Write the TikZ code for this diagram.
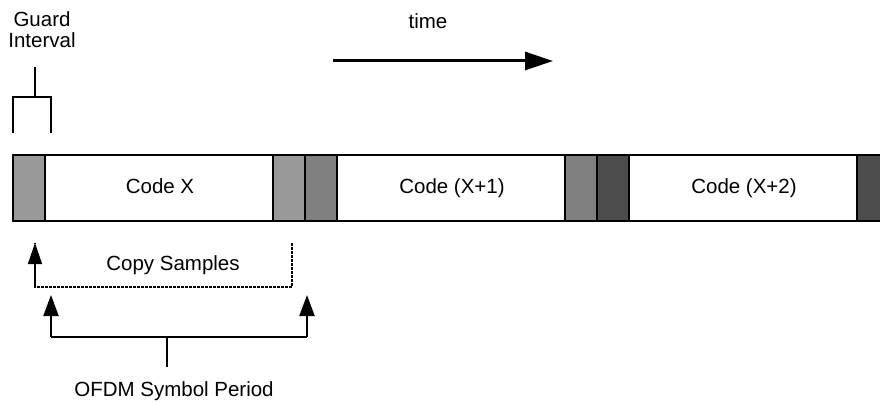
\documentclass[tikz,border=0pt]{standalone}
\usepackage{fontspec}
\setmainfont{Liberation Sans}
\usetikzlibrary{arrows.meta}
\definecolor{lightg}{HTML}{999999}
\definecolor{midg}{HTML}{808080}
\definecolor{darkg}{HTML}{4D4D4D}
\begin{document}
\begin{tikzpicture}[x=1pt,y=-1pt,
  seg/.style={draw=black, line width=1.5pt, minimum height=66pt, inner sep=0pt, outer sep=0pt},
  guardbox/.style={seg, minimum width=32pt},
  codebox/.style={seg, fill=white, minimum width=228pt},
  lbl/.style={font=\fontsize{20.5}{22}\selectfont, inner sep=0pt, anchor=base},
  bracket/.style={line width=2pt},
  copyline/.style={line width=1.5pt, dash pattern=on 3pt off 1pt},
  tip/.style={-{Triangle[length=21pt,width=15pt]}},
  ctip/.style={-{Triangle[length=21pt,width=14pt]}}
]
\useasboundingbox (0,0) rectangle (880,403);
\clip (0,0) rectangle (880,403);
% bar
\node[guardbox, fill=lightg] (g1) at (29,188) {};
\node[codebox] (c1) at (159,188) {};
\node[guardbox, fill=lightg] (g2) at (289,188) {};
\node[guardbox, fill=midg] (g3) at (321,188) {};
\node[codebox] (c2) at (451,188) {};
\node[guardbox, fill=midg] (g4) at (581,188) {};
\node[guardbox, fill=darkg] (g5) at (613,188) {};
\node[codebox] (c3) at (743,188) {};
\node[guardbox, fill=darkg] (g6) at (873,188) {};
\node[lbl] (t1) at (160,194) {Code X};
\node[lbl] (t2) at (452,194) {Code (X+1)};
\node[lbl] (t3) at (744,194) {Code (X+2)};
% guard interval
\node[lbl] (gd) at (42,27) {Guard};
\node[lbl] (gi) at (42,48) {Interval};
\coordinate (gs) at (35,67);
\coordinate (gm) at (35,97);
\coordinate (gl) at (13,97);
\coordinate (gr) at (51,97);
\coordinate (gll) at (13,133);
\coordinate (grr) at (51,133);
\draw[bracket] (gs) -- (gm);
\draw[bracket] (gll) -- (gl) -- (gr) -- (grr);
% time
\node[lbl] (tm) at (428,29) {time};
\coordinate (ta) at (333,61);
\coordinate (tb) at (553,61);
\draw[line width=3pt, -{Triangle[length=28pt,width=18pt]}] (ta) -- (tb);
% copy samples
\node[lbl] (cs) at (173,270) {Copy Samples};
\coordinate (cr) at (292,243);
\coordinate (crb) at (292,287);
\coordinate (clb) at (35,287);
\coordinate (cl) at (35,243);
\draw[copyline] (cr) -- (crb) -- (clb) -- (cl);
\draw[line width=1.5pt, ctip] (clb) -- (cl);
% OFDM symbol period
\coordinate (ol) at (51,295);
\coordinate (olb) at (51,337);
\coordinate (orb) at (307,337);
\coordinate (or) at (307,295);
\coordinate (om) at (167,337);
\coordinate (os) at (167,367);
\draw[bracket, tip] (olb) -- (ol);
\draw[bracket, tip] (orb) -- (or);
\draw[bracket] (olb) -- (orb);
\draw[bracket] (om) -- (os);
\node[lbl] (op) at (174,396) {OFDM Symbol Period};
\end{tikzpicture}
\end{document}
